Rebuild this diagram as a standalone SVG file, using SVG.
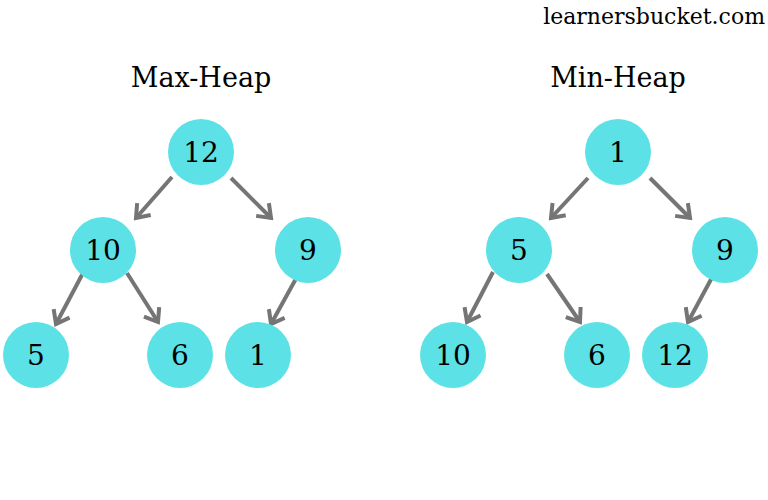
<svg xmlns="http://www.w3.org/2000/svg" width="768" height="500" viewBox="0 0 768 500">
<style>
.n{fill:#5ce1e6}
.t{font-family:"DejaVu Serif","Liberation Serif",serif;font-size:28px;fill:#000;text-anchor:middle}
.h{font-family:"DejaVu Serif","Liberation Serif",serif;font-size:27px;fill:#000;text-anchor:middle}
.e{stroke:#757575;stroke-width:4;fill:none;marker-end:url(#a)}
</style>
<defs>
<marker id="a" viewBox="0 0 18 22" refX="15" refY="11" markerWidth="18" markerHeight="22" markerUnits="userSpaceOnUse" orient="auto">
<path d="M3,2 L15,11 L3,20" fill="none" stroke="#757575" stroke-width="4" stroke-linejoin="miter"/>
</marker>
</defs>
<rect width="768" height="500" fill="#fff"/>
<text x="765" y="24" style="font-family:'DejaVu Serif','Liberation Serif',serif;font-size:22px;text-anchor:end">learnersbucket.com</text>
<text class="h" x="201" y="87">Max-Heap</text>
<text class="h" x="618" y="87">Min-Heap</text>
<g id="connectors">
<line class="e" x1="172" y1="177" x2="136" y2="218"/>
<line class="e" x1="231" y1="178" x2="271" y2="218"/>
<line class="e" x1="83" y1="273" x2="56" y2="324"/>
<line class="e" x1="127" y1="273" x2="158" y2="322"/>
<line class="e" x1="298" y1="275" x2="271" y2="324"/>
<line class="e" x1="588" y1="178" x2="551" y2="218"/>
<line class="e" x1="650" y1="178" x2="690" y2="218"/>
<line class="e" x1="493" y1="272" x2="467" y2="322"/>
<line class="e" x1="547" y1="274" x2="580" y2="322"/>
<line class="e" x1="715" y1="272" x2="688" y2="322"/>
</g>
<g id="max12"><circle class="n" cx="201" cy="152" r="33"/><text class="t" x="201" y="162">12</text></g>
<g id="max10"><circle class="n" cx="103" cy="250" r="33"/><text class="t" x="103" y="260">10</text></g>
<g id="max9"><circle class="n" cx="308" cy="250" r="33"/><text class="t" x="308" y="260">9</text></g>
<g id="max5"><circle class="n" cx="36" cy="355" r="33"/><text class="t" x="36" y="365">5</text></g>
<g id="max6"><circle class="n" cx="180" cy="355" r="33"/><text class="t" x="180" y="365">6</text></g>
<g id="max1"><circle class="n" cx="258" cy="355" r="33"/><text class="t" x="258" y="365">1</text></g>
<g id="min1"><circle class="n" cx="618" cy="152" r="33"/><text class="t" x="618" y="162">1</text></g>
<g id="min5"><circle class="n" cx="519" cy="250" r="33"/><text class="t" x="519" y="260">5</text></g>
<g id="min9"><circle class="n" cx="725" cy="250" r="33"/><text class="t" x="725" y="260">9</text></g>
<g id="min10"><circle class="n" cx="453" cy="355" r="33"/><text class="t" x="453" y="365">10</text></g>
<g id="min6"><circle class="n" cx="597" cy="355" r="33"/><text class="t" x="597" y="365">6</text></g>
<g id="min12"><circle class="n" cx="675" cy="355" r="33"/><text class="t" x="675" y="365">12</text></g>
</svg>
